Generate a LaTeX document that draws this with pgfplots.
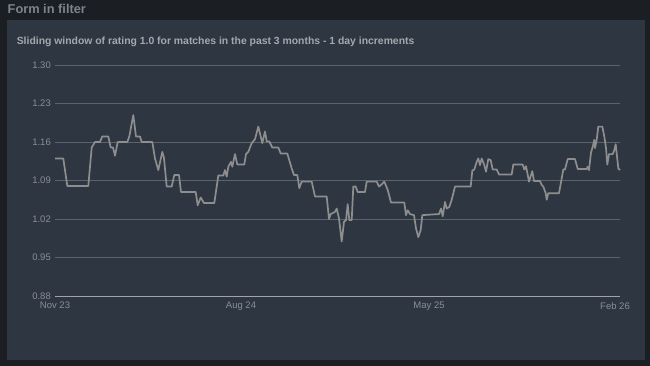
\documentclass[border=0pt]{standalone}
\usepackage{pgfplots}
\pgfplotsset{compat=1.18}
\usepackage{fontspec}
\setmainfont{Liberation Sans}
\definecolor{outerbg}{HTML}{1B1E23}
\definecolor{panelbg}{HTML}{2E3641}
\definecolor{gridc}{HTML}{5C636D}
\definecolor{linec}{HTML}{8E8E8E}
\definecolor{tickc}{HTML}{8A8F96}
\definecolor{titlec}{HTML}{A3A8AE}
\definecolor{hdrc}{HTML}{7E848B}
\definecolor{axisc}{HTML}{A0A4A8}
\begin{document}
\begin{tikzpicture}
\useasboundingbox (0,0) rectangle (650bp,366bp);
\fill[outerbg] (0,0) rectangle (650bp,366bp);
\fill[panelbg] (7bp,6bp) rectangle (645bp,346bp);
\node[anchor=base west, inner sep=0pt, text=hdrc, font=\fontsize{12.8bp}{14bp}\selectfont\bfseries] at (7.5bp,352bp) {Form in filter};
\node[anchor=base west, inner sep=0pt, text=titlec, font=\fontsize{10.4bp}{12bp}\selectfont\bfseries] at (16.6bp,321.7bp) {Sliding window of rating 1.0 for matches in the past 3 months - 1 day increments};
\begin{axis}[
  at={(55bp,70bp)}, anchor=south west, scale only axis,
  width=565bp, height=231bp,
  xmin=0, xmax=565, ymin=0.88, ymax=1.30,
  ytick={0.88,0.95,1.02,1.09,1.16,1.23,1.30},
  yticklabels={0.88,0.95,1.02,1.09,1.16,1.23,1.30},
  xtick={0,186,374,560},
  xticklabels={Nov 23,Aug 24,May 25,Feb 26},
  axis x line*=bottom, axis y line*=left,
  x axis line style={-, axisc, line width=0.9bp},
  y axis line style={draw=none},
  major tick length=0pt, tick style={draw=none},
  ymajorgrids, grid style={gridc, line width=0.8bp},
  ticklabel style={font=\fontsize{9.5bp}{11bp}\selectfont, text=tickc},
  /pgf/number format/assume math mode=true,
  yticklabel style={anchor=east, inner sep=0pt, xshift=-4bp},
  xticklabel style={anchor=north, inner sep=0pt, yshift=-6bp},
  clip=false,
]
\addplot[linec, line width=1.7bp, mark=none, line join=round] coordinates {
(0,1.130) (8.3,1.130) (12.3,1.080) (33.3,1.080) (36.7,1.150) (40,1.160) (45,1.160) (47.3,1.170) (53.3,1.170) (55.7,1.150) (58,1.150) (60,1.135) (62.7,1.160) (72.3,1.160) (74.3,1.170) (78.3,1.209) (81,1.170) (85,1.170) (86.7,1.160) (97.3,1.160) (100,1.130) (103.3,1.109) (107.3,1.142) (109,1.131) (111.7,1.079) (116.7,1.079) (119.3,1.100) (124,1.100) (126,1.069) (140.7,1.069) (142.7,1.045) (145.7,1.059) (149,1.049) (159.3,1.049) (163.3,1.099) (168.3,1.099) (170,1.109) (171.7,1.097) (173.3,1.115) (176,1.124) (177.3,1.115) (180,1.138) (182.3,1.119) (189.3,1.119) (191,1.138) (193.3,1.142) (196.7,1.158) (200,1.165) (203.3,1.188) (207.3,1.158) (210,1.179) (211.7,1.161) (214.3,1.161) (217.3,1.150) (223.3,1.150) (225.7,1.139) (232.3,1.139) (236.7,1.112) (239,1.100) (242.3,1.100) (244.3,1.076) (246.7,1.088) (256.7,1.088) (260,1.061) (271.7,1.061) (274,1.020) (275.7,1.029) (280,1.033) (281.7,1.039) (284,1.021) (286.7,0.979) (289,1.015) (291,1.018) (292.7,1.047) (294.3,1.018) (296.7,1.018) (298.3,1.079) (300.7,1.079) (302.7,1.069) (310,1.069) (311.7,1.088) (321.7,1.088) (324,1.079) (326.7,1.083) (329.3,1.088) (332.7,1.073) (336,1.050) (349.3,1.050) (351,1.027) (352.7,1.036) (355,1.029) (359,1.027) (361,1.003) (363.3,0.987) (365.7,1.000) (367.3,1.027) (384,1.029) (386,1.039) (387.7,1.025) (390,1.051) (391.7,1.039) (394.3,1.042) (396.7,1.055) (400,1.079) (415.7,1.079) (417.3,1.108) (419.3,1.110) (421.7,1.124) (423.3,1.130) (425,1.118) (426.7,1.130) (429.3,1.118) (431,1.106) (433.3,1.129) (435.7,1.127) (437.7,1.110) (441.7,1.110) (444,1.101) (456.7,1.101) (458.3,1.119) (467.7,1.119) (469.3,1.110) (471,1.116) (473.3,1.095) (474,1.088) (476,1.100) (477.3,1.107) (479,1.089) (485,1.089) (486.7,1.082) (488.3,1.079) (490.7,1.067) (491.7,1.055) (493.3,1.067) (504,1.067) (508.3,1.110) (510,1.110) (512.7,1.129) (520,1.129) (522.7,1.111) (531.7,1.111) (532.7,1.115) (534,1.109) (536,1.141) (537.7,1.151) (539.3,1.164) (540,1.149) (541.7,1.164) (543.3,1.188) (547.3,1.188) (549.3,1.170) (551,1.149) (552.3,1.119) (554,1.138) (557.7,1.138) (559.3,1.145) (560.7,1.156) (563.3,1.112) (565,1.109)
};
\end{axis}
\end{tikzpicture}
\end{document}
